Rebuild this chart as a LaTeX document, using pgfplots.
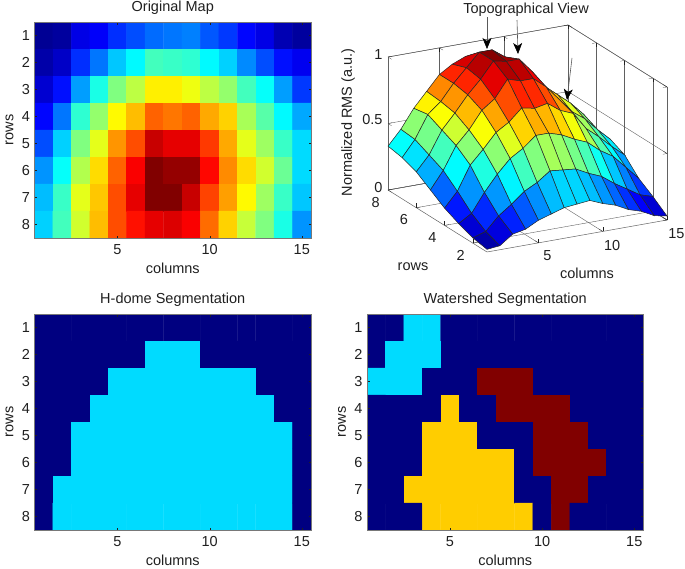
\documentclass[border=0pt]{standalone}
\usepackage{pgfplots}
\usepackage{pgfplotstable}
\usepackage{fontspec}
\usetikzlibrary{arrows.meta}
\setmainfont{Liberation Sans}
\pgfplotsset{compat=1.18}
\pgfplotsset{colormap={myjet}{rgb255=(0,0,128) rgb255=(0,0,255) rgb255=(0,128,255) rgb255=(0,255,255) rgb255=(128,255,128) rgb255=(255,255,0) rgb255=(255,128,0) rgb255=(255,0,0) rgb255=(128,0,0)}}
\pgfplotstableread[row sep=\\]{
x y z\\
1 1 .02\\ 2 1 .03\\ 3 1 .10\\ 4 1 .12\\ 5 1 .17\\ 6 1 .20\\ 7 1 .23\\ 8 1 .24\\ 9 1 .25\\ 10 1 .21\\ 11 1 .18\\ 12 1 .13\\ 13 1 .10\\ 14 1 .05\\ 15 1 .03\\
1 2 .04\\ 2 2 .07\\ 3 2 .17\\ 4 2 .24\\ 5 2 .32\\ 6 2 .37\\ 7 2 .44\\ 8 2 .43\\ 9 2 .42\\ 10 2 .37\\ 11 2 .33\\ 12 2 .26\\ 13 2 .20\\ 14 2 .14\\ 15 2 .11\\
1 3 .08\\ 2 3 .14\\ 3 3 .28\\ 4 3 .40\\ 5 3 .50\\ 6 3 .56\\ 7 3 .64\\ 8 3 .64\\ 9 3 .61\\ 10 3 .56\\ 11 3 .52\\ 12 3 .44\\ 13 3 .38\\ 14 3 .28\\ 15 3 .18\\
1 4 .13\\ 2 4 .24\\ 3 4 .42\\ 4 4 .52\\ 5 4 .63\\ 6 4 .69\\ 7 4 .78\\ 8 4 .76\\ 9 4 .78\\ 10 4 .71\\ 11 4 .67\\ 12 4 .54\\ 13 4 .46\\ 14 4 .37\\ 15 4 .29\\
1 5 .20\\ 2 5 .33\\ 3 5 .50\\ 4 5 .60\\ 5 5 .73\\ 6 5 .80\\ 7 5 .93\\ 8 5 .90\\ 9 5 .90\\ 10 5 .82\\ 11 5 .71\\ 12 5 .60\\ 13 5 .53\\ 14 5 .43\\ 15 5 .34\\
1 6 .27\\ 2 6 .38\\ 3 6 .55\\ 4 6 .66\\ 5 6 .78\\ 6 6 .88\\ 7 6 1.0\\ 8 6 .98\\ 9 6 .98\\ 10 6 .87\\ 11 6 .74\\ 12 6 .66\\ 13 6 .58\\ 14 6 .48\\ 15 6 .34\\
1 7 .31\\ 2 7 .43\\ 3 7 .60\\ 4 7 .68\\ 5 7 .80\\ 6 7 .90\\ 7 7 1.0\\ 8 7 1.0\\ 9 7 .93\\ 10 7 .81\\ 11 7 .72\\ 12 7 .63\\ 13 7 .53\\ 14 7 .43\\ 15 7 .32\\
1 8 .33\\ 2 8 .44\\ 3 8 .58\\ 4 8 .69\\ 5 8 .80\\ 6 8 .86\\ 7 8 .90\\ 8 8 .91\\ 9 8 .88\\ 10 8 .77\\ 11 8 .67\\ 12 8 .57\\ 13 8 .50\\ 14 8 .40\\ 15 8 .27\\
}\heat
\pgfplotstableread[row sep=\\]{
x y z\\
1 1 0\\ 2 1 0\\ 3 1 0\\ 4 1 0\\ 5 1 0\\ 6 1 0\\ 7 1 0\\ 8 1 0\\ 9 1 0\\ 10 1 0\\ 11 1 0\\ 12 1 0\\ 13 1 0\\ 14 1 0\\ 15 1 0\\
1 2 0\\ 2 2 0\\ 3 2 0\\ 4 2 0\\ 5 2 0\\ 6 2 0\\ 7 2 .34\\ 8 2 .34\\ 9 2 .34\\ 10 2 0\\ 11 2 0\\ 12 2 0\\ 13 2 0\\ 14 2 0\\ 15 2 0\\
1 3 0\\ 2 3 0\\ 3 3 0\\ 4 3 0\\ 5 3 .34\\ 6 3 .34\\ 7 3 .34\\ 8 3 .34\\ 9 3 .34\\ 10 3 .34\\ 11 3 .34\\ 12 3 .34\\ 13 3 0\\ 14 3 0\\ 15 3 0\\
1 4 0\\ 2 4 0\\ 3 4 0\\ 4 4 .34\\ 5 4 .34\\ 6 4 .34\\ 7 4 .34\\ 8 4 .34\\ 9 4 .34\\ 10 4 .34\\ 11 4 .34\\ 12 4 .34\\ 13 4 .34\\ 14 4 0\\ 15 4 0\\
1 5 0\\ 2 5 0\\ 3 5 .34\\ 4 5 .34\\ 5 5 .34\\ 6 5 .34\\ 7 5 .34\\ 8 5 .34\\ 9 5 .34\\ 10 5 .34\\ 11 5 .34\\ 12 5 .34\\ 13 5 .34\\ 14 5 .34\\ 15 5 0\\
1 6 0\\ 2 6 0\\ 3 6 .34\\ 4 6 .34\\ 5 6 .34\\ 6 6 .34\\ 7 6 .34\\ 8 6 .34\\ 9 6 .34\\ 10 6 .34\\ 11 6 .34\\ 12 6 .34\\ 13 6 .34\\ 14 6 .34\\ 15 6 0\\
1 7 0\\ 2 7 .34\\ 3 7 .34\\ 4 7 .34\\ 5 7 .34\\ 6 7 .34\\ 7 7 .34\\ 8 7 .34\\ 9 7 .34\\ 10 7 .34\\ 11 7 .34\\ 12 7 .34\\ 13 7 .34\\ 14 7 .34\\ 15 7 0\\
1 8 0\\ 2 8 .34\\ 3 8 .34\\ 4 8 .34\\ 5 8 .34\\ 6 8 .34\\ 7 8 .34\\ 8 8 .34\\ 9 8 .34\\ 10 8 .34\\ 11 8 .34\\ 12 8 .34\\ 13 8 .34\\ 14 8 .34\\ 15 8 0\\
}\hdome
\pgfplotstableread[row sep=\\]{
x y z\\
1 1 0\\ 2 1 0\\ 3 1 .34\\ 4 1 .34\\ 5 1 0\\ 6 1 0\\ 7 1 0\\ 8 1 0\\ 9 1 0\\ 10 1 0\\ 11 1 0\\ 12 1 0\\ 13 1 0\\ 14 1 0\\ 15 1 0\\
1 2 0\\ 2 2 .34\\ 3 2 .34\\ 4 2 .34\\ 5 2 0\\ 6 2 0\\ 7 2 0\\ 8 2 0\\ 9 2 0\\ 10 2 0\\ 11 2 0\\ 12 2 0\\ 13 2 0\\ 14 2 0\\ 15 2 0\\
1 3 .34\\ 2 3 .34\\ 3 3 .34\\ 4 3 0\\ 5 3 0\\ 6 3 0\\ 7 3 1\\ 8 3 1\\ 9 3 1\\ 10 3 0\\ 11 3 0\\ 12 3 0\\ 13 3 0\\ 14 3 0\\ 15 3 0\\
1 4 0\\ 2 4 0\\ 3 4 0\\ 4 4 0\\ 5 4 .675\\ 6 4 0\\ 7 4 0\\ 8 4 1\\ 9 4 1\\ 10 4 1\\ 11 4 1\\ 12 4 0\\ 13 4 0\\ 14 4 0\\ 15 4 0\\
1 5 0\\ 2 5 0\\ 3 5 0\\ 4 5 .675\\ 5 5 .675\\ 6 5 .675\\ 7 5 0\\ 8 5 0\\ 9 5 0\\ 10 5 1\\ 11 5 1\\ 12 5 1\\ 13 5 0\\ 14 5 0\\ 15 5 0\\
1 6 0\\ 2 6 0\\ 3 6 0\\ 4 6 .675\\ 5 6 .675\\ 6 6 .675\\ 7 6 .675\\ 8 6 .675\\ 9 6 0\\ 10 6 1\\ 11 6 1\\ 12 6 1\\ 13 6 1\\ 14 6 0\\ 15 6 0\\
1 7 0\\ 2 7 0\\ 3 7 .675\\ 4 7 .675\\ 5 7 .675\\ 6 7 .675\\ 7 7 .675\\ 8 7 .675\\ 9 7 0\\ 10 7 0\\ 11 7 1\\ 12 7 1\\ 13 7 0\\ 14 7 0\\ 15 7 0\\
1 8 0\\ 2 8 0\\ 3 8 0\\ 4 8 .675\\ 5 8 .675\\ 6 8 .675\\ 7 8 .675\\ 8 8 .675\\ 9 8 .675\\ 10 8 0\\ 11 8 1\\ 12 8 0\\ 13 8 0\\ 14 8 0\\ 15 8 0\\
}\watershed
\definecolor{txt}{gray}{0.12}
\pgfplotsset{
  every axis/.append style={font=\fontsize{14.5bp}{16bp}\selectfont, /pgf/number format/assume math mode=true},
  mapax/.style={
    scale only axis, width=276.5bp, height=216bp,
    xmin=0.5, xmax=15.5, ymin=0.5, ymax=8.5, y dir=reverse,
    xtick={5,10,15}, ytick={1,2,3,4,5,6,7,8},
    tick align=inside, major tick length=2.5bp,
    axis on top, axis line style={line width=.5pt,color=txt!60}, tick style={color=txt},
    colormap name=myjet, point meta min=0, point meta max=1,
    xlabel=columns, ylabel=rows,
    every axis x label/.style={at={(axis description cs:.5,0)}, anchor=center, yshift=-30bp},
    every axis y label/.style={at={(axis description cs:0,.5)}, anchor=center, xshift=-25bp, rotate=90},
    every axis title/.style={at={(axis description cs:.5,1)}, anchor=center, yshift=14bp},
    xticklabel style={yshift=-3bp}, yticklabel style={xshift=-1bp},
    text=txt,
  },
  mapplot/.style={matrix plot*, mesh/cols=15, point meta=explicit},
}
\begin{document}
\begin{tikzpicture}
\useasboundingbox (0,0) rectangle (685bp,-569bp);
\begin{axis}[mapax, name=a, at={(34.5bp,-238bp)}, anchor=south west, title={Original Map}]
\addplot[mapplot] table[x=x,y=y,meta=z] {\heat};
\end{axis}
\begin{axis}[mapax, at={(34.5bp,-530bp)}, anchor=south west, title={H-dome Segmentation}]
\addplot[mapplot] table[x=x,y=y,meta=z] {\hdome};
\end{axis}
\begin{axis}[mapax, at={(367bp,-530bp)}, anchor=south west, title={Watershed Segmentation}]
\addplot[mapplot] table[x=x,y=y,meta=z] {\watershed};
\end{axis}
\begin{axis}[
  at={(487bp,-252bp)}, anchor=origin,
  x={(12.857bp,2.286bp)}, y={(-14.14bp,8.857bp)}, z={(0bp,133bp)},
  xmin=1, xmax=15, ymin=1, ymax=8, zmin=0, zmax=1,
  xtick={5,10,15}, ytick={2,4,6,8}, ztick={0,0.5,1},
  xticklabel style={xshift=4bp,yshift=-4bp},
  yticklabel style={xshift=-5bp,yshift=-3.5bp},
  zticklabel style={xshift=-2bp,yshift=1bp},
  grid=major, grid style={line width=.4pt,color=gray!75!black},
  axis line style={line width=.5pt,color=txt!70}, tick style={color=txt},
  colormap name=myjet, point meta min=0, point meta max=1,
  text=txt, clip=false,
  xlabel=columns, ylabel=rows, zlabel={Normalized RMS (a.u.)},
  every axis x label/.style={at={(rel axis cs:.5,0,0)}, anchor=center, xshift=10bp, yshift=-37bp},
  every axis y label/.style={at={(rel axis cs:0,.5,0)}, anchor=center, xshift=-24.5bp, yshift=-46bp},
  every axis z label/.style={at={(rel axis cs:0,1,.5)}, anchor=center, xshift=-40bp, yshift=1bp, rotate=90},
  every axis title/.style={at={(rel axis cs:1,1,1)}, anchor=center, xshift=-42bp, yshift=15bp},
  title={Topographical View},
]
\addplot3[surf, shader=faceted, faceted color=black!85, line width=.5pt, z buffer=sort, mesh/cols=15, point meta=z]
  table[x=x,y=y,z=z] {\heat};
\end{axis}
\draw[-{Stealth[length=11bp,width=9bp,inset=3bp,color=black]}, line width=.6pt, black!65] (487bp,-17bp) -- (487bp,-49bp);
\draw[-{Stealth[length=11bp,width=9bp,inset=3bp,color=black]}, line width=.6pt, black!65] (517bp,-20bp) -- (518bp,-54bp);
\draw[-{Stealth[length=11bp,width=9bp,inset=3bp,color=black]}, line width=.6pt, black!65] (572bp,-58bp) -- (567bp,-100bp);
\end{tikzpicture}
\end{document}
